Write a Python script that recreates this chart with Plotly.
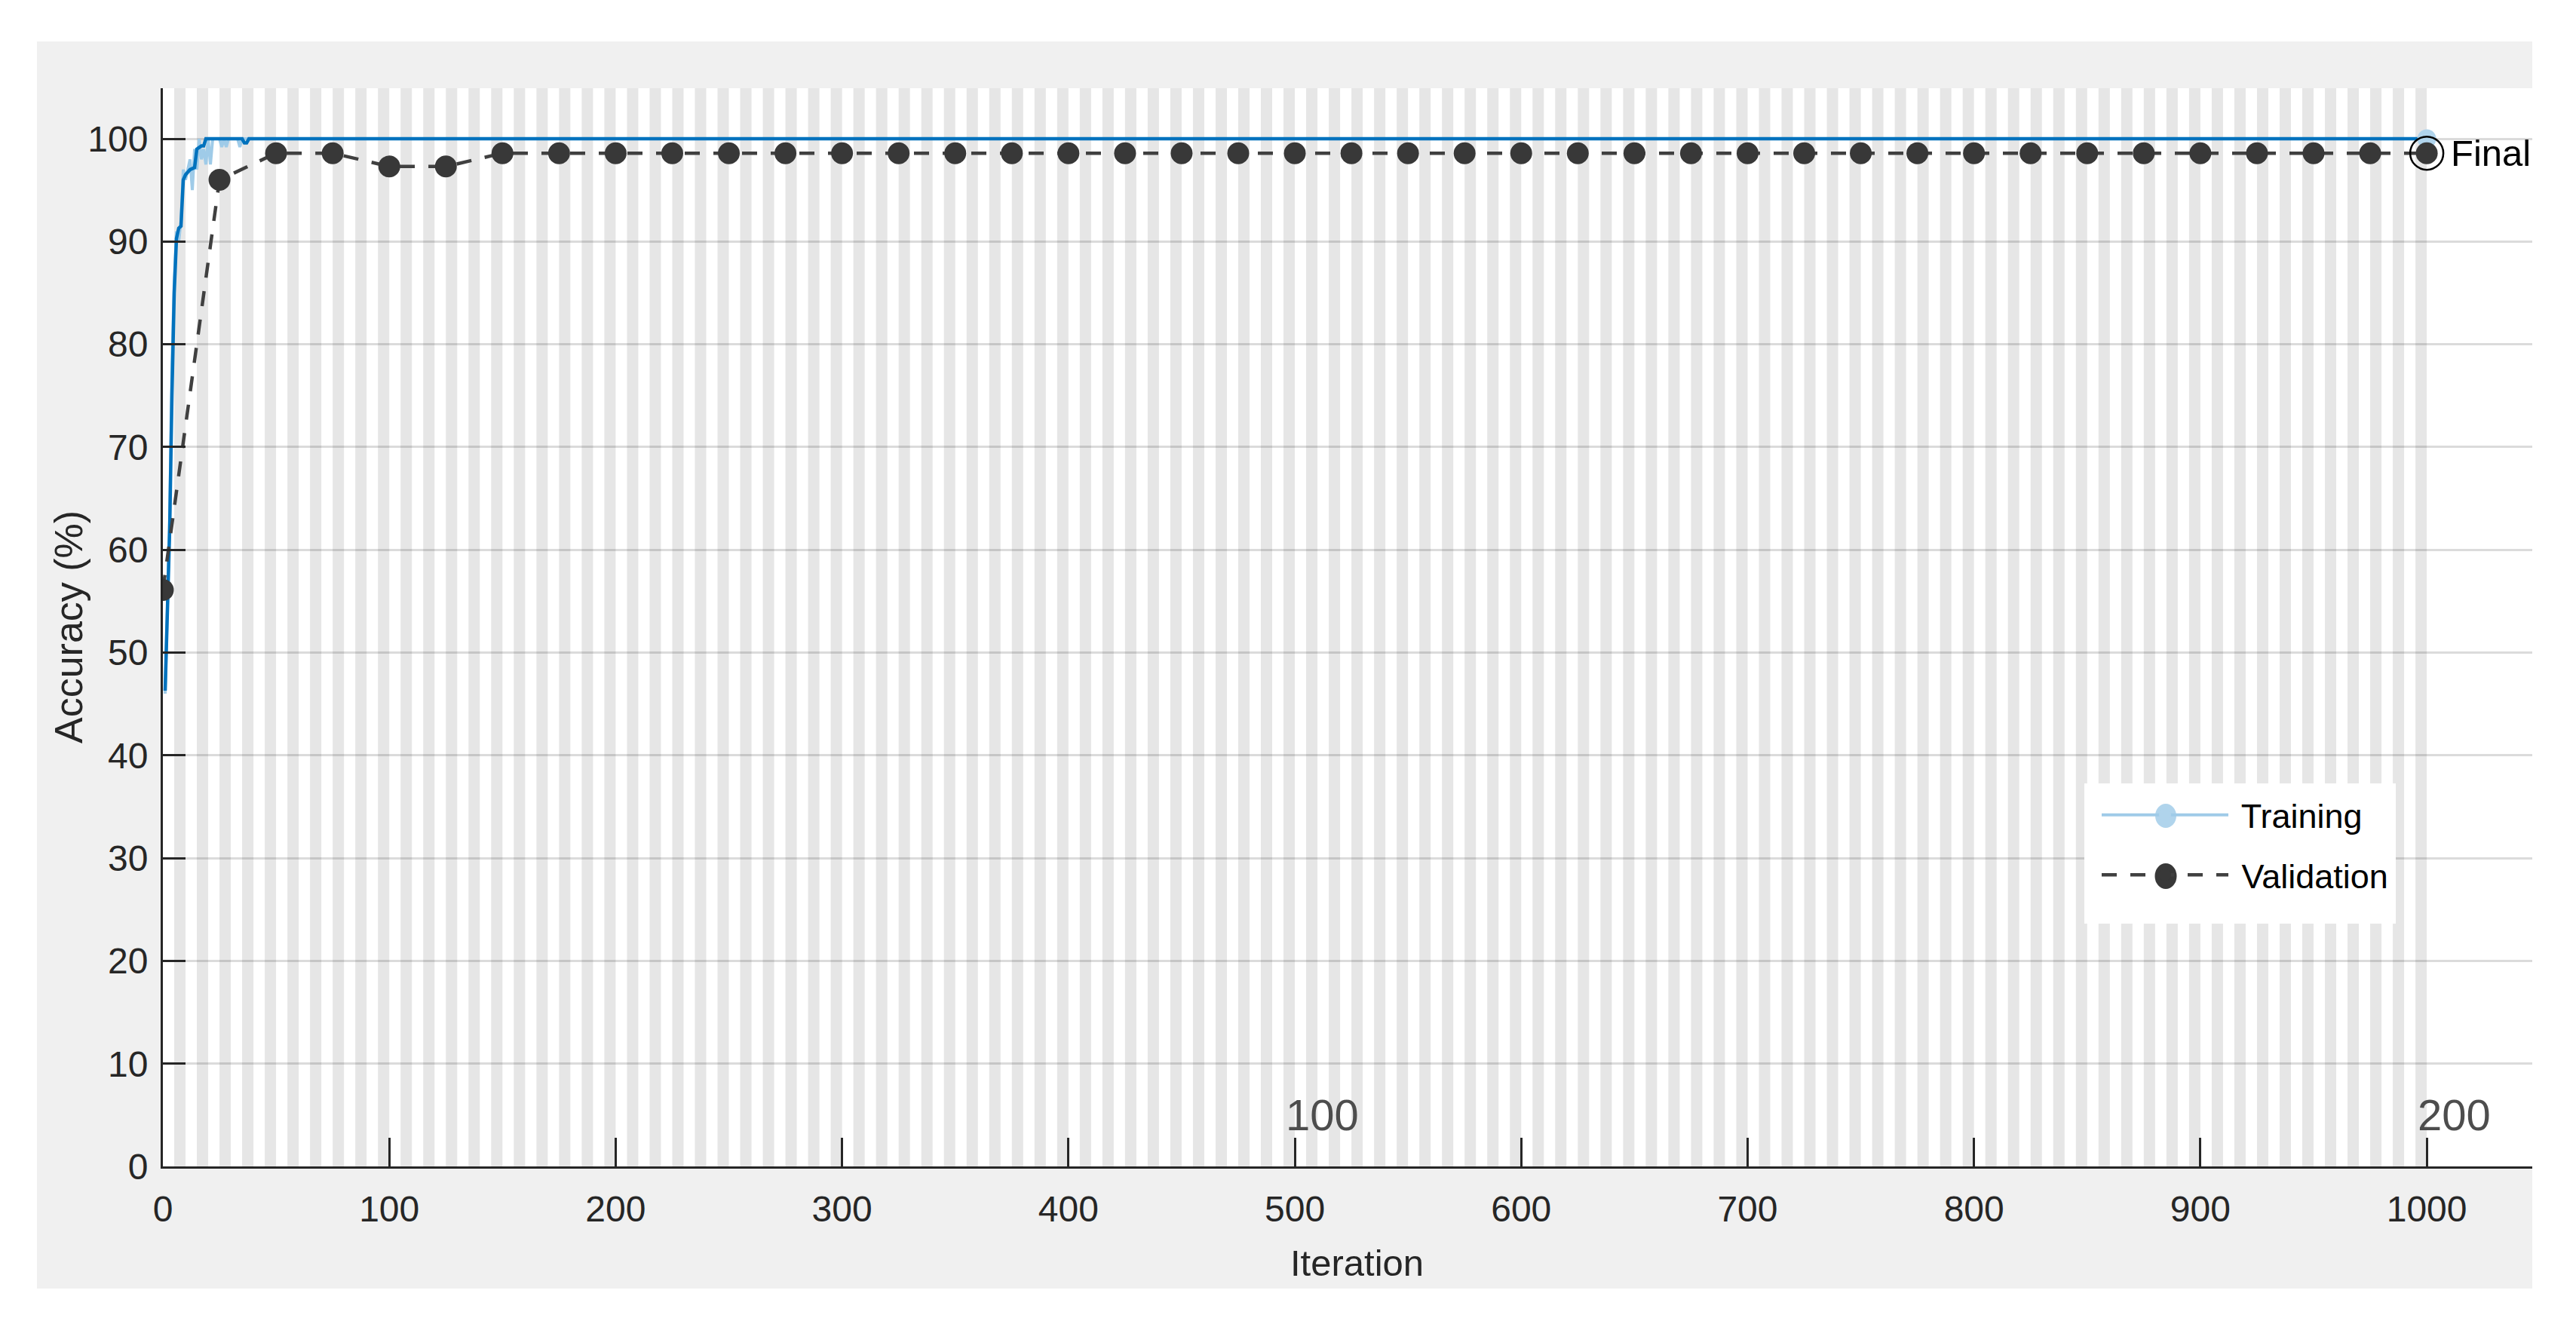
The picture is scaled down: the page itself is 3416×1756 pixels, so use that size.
import plotly.graph_objects as go

# ---- data ----
raw_iter = [1, 2, 3, 4, 5, 6, 7, 8, 9, 10, 11, 12, 13, 14, 15, 16, 17, 18, 19, 20,
            21, 22, 23, 24, 25, 26, 27, 28, 29, 30, 31, 32, 33, 34, 35, 36, 37, 38, 39, 40, 1000]
raw_acc = [46, 56, 63, 78, 86, 91, 90, 92, 97, 96, 97, 98, 95, 99, 97, 100, 98, 99, 97.5, 100,
           97.5, 100, 100, 100, 100, 99.2, 100, 99.2, 100, 100, 100, 100, 100, 99.2, 100, 100, 100, 100, 100, 100, 100]

smooth_iter = [1, 2, 3, 4, 5, 6, 7, 8, 9, 10, 11, 12, 13, 14, 15, 16, 17, 18, 19, 35, 36, 37, 38, 1000]
smooth_acc = [46.3, 55, 62, 75, 85, 90.3, 91.3, 91.5, 96, 96.5, 96.8, 97, 97.1, 97.2, 99, 99.2, 99.3, 99.3,
              100, 100, 99.6, 99.6, 100, 100]

val_iter = [0, 25, 50, 75, 100, 125, 150, 175, 200, 225, 250, 275, 300, 325, 350, 375, 400, 425, 450, 475,
            500, 525, 550, 575, 600, 625, 650, 675, 700, 725, 750, 775, 800, 825, 850, 875, 900, 925, 950, 975, 1000]
val_acc = [56.1, 96.0, 98.6, 98.6, 97.3, 97.3, 98.6, 98.6, 98.6, 98.6, 98.6, 98.6, 98.6, 98.6, 98.6, 98.6,
           98.6, 98.6, 98.6, 98.6, 98.6, 98.6, 98.6, 98.6, 98.6, 98.6, 98.6, 98.6, 98.6, 98.6, 98.6, 98.6,
           98.6, 98.6, 98.6, 98.6, 98.6, 98.6, 98.6, 98.6, 98.6]

iters_per_epoch = 5
n_epochs = 200
epoch_labels = [100, 200]

FONT = 'Liberation Sans, Arial, sans-serif'
TXT = '#262626'
LIGHT = '#9fcbe8'
LIGHT_MK = '#b0d4ec'
BLUE = '#0072bd'
GRAY = '#404040'
DARK_MK = '#383838'

# page has an 8px body margin, so the figure is made 8px smaller and shifted
OFF = 8
W, H = 3416 - OFF, 1756 - OFF
ML, MR, MT, MB = 216 - OFF, 58, 117 - OFF, 209
PW, PH = W - ML - MR, H - MT - MB


def px(x, y):
    """page pixel position -> paper coordinates"""
    x, y = x - OFF, y - OFF
    return (x - ML) / PW, (H - MB - y) / PH


fig = go.Figure()

fig.add_trace(go.Scatter(x=raw_iter, y=raw_acc, mode='lines', line=dict(color=LIGHT, width=4),
                         showlegend=False, hoverinfo='skip'))
fig.add_trace(go.Scatter(x=smooth_iter, y=smooth_acc, mode='lines', line=dict(color=BLUE, width=4.5),
                         showlegend=False))
# final training point (also the legend entry)
fig.add_trace(go.Scatter(x=raw_iter[-1:], y=raw_acc[-1:], mode='lines+markers', name=' Training',
                         line=dict(color=LIGHT, width=4),
                         marker=dict(color=LIGHT_MK, size=25), legendgroup='a'))
fig.add_trace(go.Scatter(x=val_iter, y=val_acc, mode='lines+markers', name=' Validation',
                         line=dict(color=GRAY, width=4.5, dash='20px,18px'),
                         marker=dict(color=DARK_MK, size=29), legendgroup='b'))
# ring around the final validation point
fig.add_trace(go.Scatter(x=val_iter[-1:], y=val_acc[-1:], mode='markers', showlegend=False,
                         marker=dict(symbol='circle-open', size=44, color='black', line=dict(width=2.5))))

shapes = []
# outer gray panel
p0 = px(49, 1709)
p1 = px(3358, 55)
shapes.append(dict(type='rect', xref='paper', yref='paper', x0=p0[0], x1=p1[0], y0=p0[1], y1=p1[1],
                   fillcolor='#f0f0f0', line=dict(width=0), layer='below'))
# white plot area
shapes.append(dict(type='rect', xref='x domain', yref='y domain', x0=0, x1=1, y0=0, y1=1,
                   fillcolor='white', line=dict(width=0), layer='below'))
# alternating epoch bands
for e in range(2, n_epochs + 1, 2):
    shapes.append(dict(type='rect', xref='x', yref='y domain',
                       x0=(e - 1) * iters_per_epoch, x1=e * iters_per_epoch, y0=0, y1=1,
                       fillcolor='#e6e6e6', line=dict(width=0), layer='below'))
# legend box
b0 = px(2764, 1225)
b1 = px(3177, 1039)
shapes.append(dict(type='rect', xref='paper', yref='paper', x0=b0[0], x1=b1[0], y0=b0[1], y1=b1[1],
                   fillcolor='white', line=dict(width=0), layer='above'))
# bigger legend markers (plotly caps legend marker size)
for cx, cy, w, h, col in [(2872, 1082, 28, 32, LIGHT_MK), (2872, 1162, 29, 34, DARK_MK)]:
    q0 = px(cx - w / 2, cy + h / 2)
    q1 = px(cx + w / 2, cy - h / 2)
    shapes.append(dict(type='circle', xref='paper', yref='paper', x0=q0[0], x1=q1[0], y0=q0[1], y1=q1[1],
                       fillcolor=col, line=dict(width=0), layer='above'))

annotations = []
for ep in epoch_labels:
    annotations.append(dict(x=ep * iters_per_epoch, y=2.5, xref='x', yref='y', text=str(ep),
                            showarrow=False, xanchor='left', yanchor='bottom', xshift=-14,
                            font=dict(size=58, color='#4d4d4d', family=FONT)))
annotations.append(dict(x=val_iter[-1], y=val_acc[-1], xref='x', yref='y', text='Final',
                        showarrow=False, xanchor='left', yanchor='middle', xshift=30,
                        font=dict(size=49, color='black', family=FONT)))
ax_x, _ = px(91, 0)
annotations.append(dict(x=ax_x, y=0.5, xref='paper', yref='paper', text='Accuracy (%)', textangle=-90,
                        showarrow=False, xanchor='center', yanchor='middle',
                        font=dict(size=52, color=TXT, family=FONT)))
it_x, it_y = px(1799, 1675)
annotations.append(dict(x=it_x, y=it_y, xref='paper', yref='paper', text='Iteration',
                        showarrow=False, xanchor='center', yanchor='middle',
                        font=dict(size=49, color=TXT, family=FONT)))

lg_x, lg_y = px(2782, 1045)

fig.update_layout(
    width=W, height=H,
    margin=dict(l=ML, r=MR, t=MT, b=MB),
    paper_bgcolor='white',
    plot_bgcolor='white',
    font=dict(family=FONT, size=48, color=TXT),
    shapes=shapes,
    annotations=annotations,
    showlegend=True,
    legend=dict(x=lg_x, y=lg_y, xanchor='left', yanchor='top', bgcolor='rgba(0,0,0,0)',
                borderwidth=0, font=dict(size=45, color='black', family=FONT),
                itemwidth=168, traceorder='grouped', tracegroupgap=18),
    xaxis=dict(range=[0, 1046.6], tick0=0, dtick=100, ticks='inside', ticklen=38, tickwidth=2.5,
               tickcolor=TXT, showline=True, linecolor=TXT, linewidth=3, showgrid=False,
               zeroline=False, ticklabelstandoff=12),
    yaxis=dict(range=[0, 104.92], tick0=0, dtick=10, ticks='inside', ticklen=30, tickwidth=2.5,
               tickcolor=TXT, showline=True, linecolor=TXT, linewidth=3, showgrid=True,
               gridcolor='rgba(0,0,0,0.14)', gridwidth=2.5, zeroline=False, ticklabelstandoff=7),
)

fig.write_html('out.html')
